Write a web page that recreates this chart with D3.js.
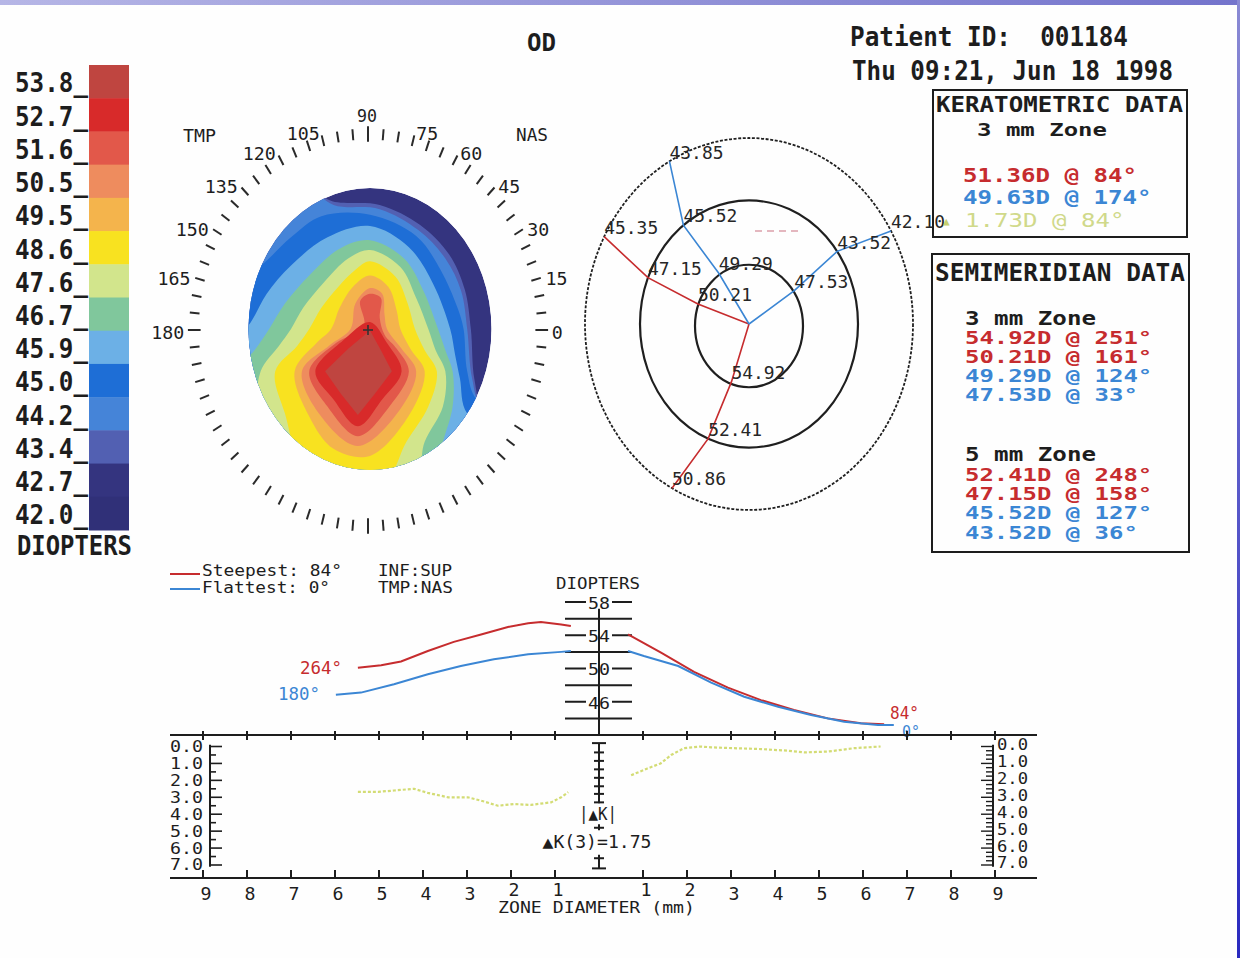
<!DOCTYPE html>
<html><head><meta charset="utf-8">
<script src="https://cdn.jsdelivr.net/npm/d3@7"></script>
<style>html,body{margin:0;padding:0;background:#fff;}svg{display:block;}text{white-space:pre;}</style>
</head><body>
<svg id="chart" width="1240" height="958"></svg>
<script>
// ---------------- DATA ----------------
const legendLabels = ["53.8","52.7","51.6","50.5","49.5","48.6","47.6","46.7","45.9","45.0","44.2","43.4","42.7","42.0"];
const legendColors = ["#bf4540","#d82a2a","#e2584a","#ee8c5e","#f4b44c","#f8e220","#d2e58c","#80c79c","#6cb0e6","#1e6ed6","#4584d8","#5260b2","#34347f","#303078"];

// topography map: iso-power outlines (region >= level), points [u, v] on the normalised corneal disc
// (u: temporal -1 .. nasal +1, v: inferior -1 .. superior +1)
const mapBase = 42.7;
const iso434 = [[-0.35,0.92],[0.08,0.88],[0.41,0.74],[0.65,0.53],[0.78,0.28],[0.83,0],[0.86,-0.36],[0.94,-0.58],[1.2,-0.62],[1.2,-1.2],[-1.2,-1.2],[-1.2,1.2],[-0.5,1.1]];
const iso442 = [[-0.3,0.88],[0.08,0.85],[0.4,0.7],[0.62,0.5],[0.75,0.27],[0.8,0],[0.84,-0.35],[0.92,-0.55],[1.2,-0.6],[1.2,-1.2],[-1.2,-1.2],[-1.2,1.2],[-0.5,1.0]];
const iso450 = [[0,0.81],[0.38,0.66],[0.58,0.42],[0.72,0.15],[0.77,0],[0.8,-0.3],[0.88,-0.5],[1.2,-0.6],[1.2,-1.2],[-1.2,-1.2],[-1.2,0.3],[-0.9,0.45],[-0.65,0.65],[-0.4,0.8]];
const iso459 = [[0,0.73],[0.32,0.58],[0.52,0.32],[0.66,0],[0.7,-0.18],[0.74,-0.35],[0.8,-0.6],[1.2,-0.8],[1.2,-1.2],[-1.2,-1.2],[-1.2,-0.2],[-0.98,0.05],[-0.85,0.25],[-0.65,0.45],[-0.35,0.65]];
const iso467 = [[0,0.63],[0.28,0.5],[0.44,0.27],[0.56,0],[0.62,-0.15],[0.68,-0.3],[0.68,-0.55],[0.6,-0.8],[0.5,-1.1],[-1.1,-1.1],[-1.1,-0.3],[-0.95,-0.15],[-0.83,0],[-0.7,0.18],[-0.5,0.38],[-0.25,0.57]];
const iso476 = [[0,0.56],[0.25,0.44],[0.38,0.22],[0.48,0],[0.54,-0.15],[0.62,-0.3],[0.6,-0.55],[0.45,-0.8],[0.35,-1.1],[-0.7,-1.1],[-0.92,-0.6],[-0.9,-0.3],[-0.75,-0.12],[-0.65,0],[-0.55,0.15],[-0.38,0.33],[-0.18,0.5]];
const iso486 = [[0,0.48],[0.21,0.37],[0.31,0.18],[0.37,0],[0.45,-0.15],[0.55,-0.3],[0.48,-0.55],[0.3,-0.8],[0.1,-1.1],[-0.5,-1.05],[-0.7,-0.6],[-0.78,-0.3],[-0.6,-0.12],[-0.5,0],[-0.4,0.15],[-0.26,0.3],[-0.12,0.42]];
const iso495 = [[0,0.38],[0.15,0.3],[0.22,0.13],[0.25,0],[0.34,-0.15],[0.45,-0.3],[0.33,-0.6],[0,-0.9],[-0.3,-0.85],[-0.5,-0.62],[-0.62,-0.3],[-0.44,-0.1],[-0.32,0],[-0.25,0.15],[-0.14,0.3]];
const iso505 = [[0,0.29],[0.1,0.25],[0.12,0.1],[0.14,0],[0.26,-0.14],[0.38,-0.3],[0.24,-0.58],[-0.1,-0.83],[-0.42,-0.6],[-0.56,-0.3],[-0.34,-0.12],[-0.16,0],[-0.12,0.18]];
const iso516 = [[0,0.25],[0.09,0.22],[0.08,0.08],[0.12,-0.04],[0.22,-0.14],[0.32,-0.3],[0.16,-0.55],[-0.1,-0.76],[-0.35,-0.55],[-0.5,-0.3],[-0.28,-0.1],[-0.05,0.02],[-0.08,0.2]];
const iso527 = [[0,0.05],[0.14,-0.1],[0.26,-0.3],[0.1,-0.5],[-0.1,-0.69],[-0.3,-0.5],[-0.45,-0.3],[-0.22,-0.08]];
const iso538 = [[0,-0.01],[0.09,-0.15],[0.18,-0.3],[0.04,-0.46],[-0.1,-0.61],[-0.24,-0.46],[-0.37,-0.3],[-0.18,-0.14]];
const isoLevels = [43.4,44.2,45.0,45.9,46.7,47.6,48.6,49.5,50.5,51.6,52.7,53.8];
const isoOutlines = [iso434,iso442,iso450,iso459,iso467,iso476,iso486,iso495,iso505,iso516,iso527,iso538];
const mapTickLabels = [0,15,30,45,60,75,90,105,120,135,150,165,180];

// semimeridian rays: [angle deg, diopters, zone mm]
const raySteepInf = [[251,54.92,3],[248,52.41,5],[242,50.86,7]];
const raySteepTmp = [[161,50.21,3],[158,47.15,5],[152,45.35,7]];
const rayFlatSup  = [[124,49.29,3],[127,45.52,5],[119,43.85,7]];
const rayFlatNas  = [[33,47.53,3],[36,43.52,5],[30,42.10,7]];
const zoneRings = [3,5,7];

// keratometric / semimeridian tables
const keraRows = [[51.36,84],[49.63,174],[1.73,84]];
const semi3mm = [[54.92,251],[50.21,161],[49.29,124],[47.53,33]];
const semi5mm = [[52.41,248],[47.15,158],[45.52,127],[43.52,36]];

// profiles: [zone mm from center, diopters]
const steepLeft  = [[5.48,50.1],[4.95,50.4],[4.5,50.85],[3.89,52.1],[3.3,53.2],[2.68,54.1],[2.07,55.0],[1.61,55.45],[1.32,55.6],[0.86,55.3],[0.64,55.1]];
const steepRight = [[0.66,54.1],[1.41,51.9],[2.16,49.6],[2.93,47.7],[3.68,46.2],[4.43,45.0],[5.2,44.0],[5.95,43.4],[6.48,43.3]];
const flatLeft   = [[5.98,46.85],[5.41,47.1],[4.66,48.1],[3.89,49.3],[3.14,50.3],[2.39,51.1],[1.61,51.7],[0.86,52.0],[0.64,52.1]];
const flatRight  = [[0.66,52.1],[1.02,51.5],[1.8,50.3],[2.55,48.3],[3.3,46.6],[4.07,45.4],[4.82,44.4],[5.57,43.6],[6.34,43.2],[6.7,43.2]];
const dkLeft  = [[5.48,2.68],[5.02,2.68],[4.66,2.6],[4.2,2.5],[3.89,2.74],[3.43,3.0],[2.98,3.0],[2.61,3.25],[2.3,3.5],[1.93,3.4],[1.55,3.45],[1.09,3.3],[0.86,3.0],[0.7,2.7]];
const dkRight = [[0.73,1.7],[1.1,1.3],[1.4,1.0],[1.64,0.5],[1.93,0.1],[2.3,0.0],[2.55,0.05],[3.07,0.1],[3.68,0.15],[4.3,0.25],[4.66,0.35],[5.2,0.3],[5.8,0.1],[6.4,0.0]];
const diopterLabeled = [58,54,50,46];
const diopterMinor = [56,52,48,44];
const zoneTicks = [1,2,3,4,5,6,7,8,9];
const dkAxisLabels = [0,1,2,3,4,5,6,7];
const dkCenterTicks = [-0.2,0.35,0.85,1.35,1.85,2.35,2.8,3.3,4.8,6.6,7.2];

// ---------------- HELPERS ----------------
const FONT = "'DejaVu Sans Mono','Liberation Mono',monospace";
const RED = "#c62c2e", BLUE = "#3b86d4", INK = "#1d1d1d", DK = "#d3dc74";
const svg = d3.select("#chart");
function label(g, s, x, cy, size, len, o = {}) {
  const t = g.append("text")
    .attr("x", x).attr("y", cy + 0.365 * size)
    .attr("font-family", FONT).attr("font-size", size)
    .attr("font-weight", o.weight || "bold")
    .attr("fill", o.color || INK)
    .attr("text-anchor", o.anchor || "start")
    .attr("xml:space", "preserve")
    .text(s);
  if (len) t.attr("textLength", len).attr("lengthAdjust", "spacingAndGlyphs");
  return t;
}

// ---------------- BACKGROUND / FRAME ----------------
svg.append("rect").attr("width", 1240).attr("height", 958).attr("fill", "#fefefe");
const defs = svg.append("defs");
const gTop = defs.append("linearGradient").attr("id", "gTop");
gTop.append("stop").attr("offset", "0%").attr("stop-color", "#b6b6e6");
gTop.append("stop").attr("offset", "100%").attr("stop-color", "#7474cc");
const gRight = defs.append("linearGradient").attr("id", "gRight").attr("x1", 0).attr("y1", 0).attr("x2", 0).attr("y2", 1);
gRight.append("stop").attr("offset", "0%").attr("stop-color", "#8a8ad4");
gRight.append("stop").attr("offset", "100%").attr("stop-color", "#2a2abf");
svg.append("rect").attr("x", 0).attr("y", 0).attr("width", 1240).attr("height", 5).attr("fill", "url(#gTop)");
svg.append("rect").attr("x", 1237).attr("y", 0).attr("width", 3).attr("height", 958).attr("fill", "url(#gRight)");

// ---------------- HEADER ----------------
label(svg, "OD", 527, 42, 25, 29);
label(svg, "Patient ID:  001184", 850, 37, 26, 278);
label(svg, "Thu 09:21, Jun 18 1998", 852, 71, 26, 321);

// ---------------- LEGEND ----------------
const legY = d3.scaleBand().domain(legendLabels).range([65, 530]);
svg.append("g").selectAll("rect").data(legendLabels).join("rect")
  .attr("x", 89).attr("y", d => legY(d)).attr("width", 40).attr("height", legY.bandwidth() + 0.5)
  .attr("fill", (d, i) => legendColors[i]);
legendLabels.forEach(d => label(svg, d + "_", 15, legY(d) + legY.bandwidth() / 2 + 1, 27, 73));
label(svg, "DIOPTERS", 17, 545, 27, 115);

// ---------------- TOPOGRAPHY MAP ----------------
const asc = legendLabels.map(Number).slice().reverse();
const bandColor = d3.scaleThreshold().domain(asc.slice(1)).range(legendColors.slice().reverse());
const mapCx = 370, mapCy = 329, mapRx = 121.5, mapRy = 141;
const uS = d3.scaleLinear().domain([-1, 1]).range([mapCx - mapRx, mapCx + mapRx]);
const vS = d3.scaleLinear().domain([-1, 1]).range([mapCy + mapRy, mapCy - mapRy]);
defs.append("clipPath").attr("id", "discClip").append("ellipse")
  .attr("cx", mapCx).attr("cy", mapCy).attr("rx", mapRx).attr("ry", mapRy);
const mapG = svg.append("g").attr("clip-path", "url(#discClip)");
mapG.append("ellipse").attr("cx", mapCx).attr("cy", mapCy).attr("rx", mapRx).attr("ry", mapRy).attr("fill", bandColor(mapBase));
const isoLine = d3.line().x(d => uS(d[0])).y(d => vS(d[1])).curve(d3.curveCatmullRomClosed.alpha(0.5));
const isoLineSharp = d3.line().x(d => uS(d[0])).y(d => vS(d[1])).curve(d3.curveLinearClosed);
mapG.selectAll("path.iso").data(isoLevels).join("path").attr("class", "iso")
  .attr("d", (lv, i) => (lv === 53.8 ? isoLineSharp : isoLine)(isoOutlines[i]))
  .attr("fill", lv => bandColor(lv));

// tick ring
const ringCx = 368, ringCy = 330, ringRx = 174, ringRy = 196;
const tickG = svg.append("g").attr("stroke", "#2a2a2a").attr("stroke-width", 2);
d3.range(0, 360, 5).forEach(a => {
  const c = Math.cos(a * Math.PI / 180), s = Math.sin(a * Math.PI / 180);
  let r0 = 0.972, r1 = 1.028;
  if (a % 90 === 0) { r0 = 0.962; r1 = 1.035; }
  if (a === 90 || a === 270) { r0 = 0.96; r1 = 1.04; }
  tickG.append("line")
    .attr("x1", ringCx + r0 * ringRx * c).attr("y1", ringCy - r0 * ringRy * s)
    .attr("x2", ringCx + r1 * ringRx * c).attr("y2", ringCy - r1 * ringRy * s);
});
mapTickLabels.forEach(a => {
  const c = Math.cos(a * Math.PI / 180), s = Math.sin(a * Math.PI / 180);
  const f = 1.05;
  const x = ringCx + f * ringRx * c, y = ringCy - f * ringRy * s;
  const str = String(a);
  if (a === 90) label(svg, str, 367, 115, 18, 20, { anchor: "middle", weight: "normal" });
  else label(svg, str, c < 0 ? x - 1 : x + 1, y + 2, 18, 11 * str.length, { anchor: c < 0 ? "end" : "start", weight: "normal" });
});
label(svg, "TMP", 183, 135, 18, 33, { weight: "normal" });
label(svg, "NAS", 516, 134, 18, 32, { weight: "normal" });
svg.append("g").attr("stroke", "#333").attr("stroke-width", 1.6).call(g => {
  g.append("line").attr("x1", 363).attr("x2", 373).attr("y1", 330).attr("y2", 330);
  g.append("line").attr("x1", 368).attr("x2", 368).attr("y1", 325).attr("y2", 335);
});

// ---------------- SEMIMERIDIAN RINGS ----------------
const smCx = 749, smCy = 324, smAspect = 1.134;
const zoneR = d3.scaleLinear().domain([3, 7]).range([54, 164]);
const smG = svg.append("g");
zoneRings.forEach(z => {
  smG.append("ellipse").attr("cx", smCx).attr("cy", smCy + (z === 3 ? 2 : 0))
    .attr("rx", zoneR(z)).attr("ry", zoneR(z) * smAspect)
    .attr("fill", "none").attr("stroke", "#1f1f1f").attr("stroke-width", z === 7 ? 1.8 : 2.2)
    .attr("stroke-dasharray", z === 7 ? "3,1.6" : null);
});
const rayPt = d => [smCx + zoneR(d[2]) * Math.cos(d[0] * Math.PI / 180),
                    smCy - zoneR(d[2]) * smAspect * Math.sin(d[0] * Math.PI / 180)];
const rayLine = d3.line();
[[raySteepInf, RED], [raySteepTmp, RED], [rayFlatSup, BLUE], [rayFlatNas, BLUE]].forEach(([ray, col]) => {
  smG.append("path").attr("d", rayLine([[smCx, smCy]].concat(ray.map(rayPt))))
    .attr("fill", "none").attr("stroke", col).attr("stroke-width", 1.6);
});
smG.append("line").attr("x1", 755).attr("x2", 801).attr("y1", 231).attr("y2", 231)
  .attr("stroke", "#dca0aa").attr("stroke-width", 1.3).attr("stroke-dasharray", "7,5");
[raySteepInf, raySteepTmp, rayFlatSup, rayFlatNas].forEach(ray => ray.forEach(d => {
  const p = rayPt(d);
  label(smG, d[1].toFixed(2), p[0], p[1] - 9, 17, 54, { weight: "normal", color: "#262626" });
}));

// ---------------- KERATOMETRIC BOX ----------------
svg.append("rect").attr("x", 933).attr("y", 90).attr("width", 254).attr("height", 147)
  .attr("fill", "none").attr("stroke", "#1d1d1d").attr("stroke-width", 2);
label(svg, "KERATOMETRIC DATA", 936, 104, 22, 247);
label(svg, "3 mm Zone", 977, 129, 18, 130);
const keraCols = [RED, BLUE, "#d0d98a"];
const keraY = [175, 197, 220];
keraRows.forEach((r, i) => {
  const s = `${r[0].toFixed(2)}D @ ${r[1]}°`;
  label(svg, s, i === 2 ? 965 : 963, keraY[i], 19, s.length * 14.5, { color: keraCols[i], weight: i === 2 ? "normal" : "bold" });
});
label(svg, "▲", 943, 221, 11, null, { color: "#c6d070", weight: "normal" });

// ---------------- SEMIMERIDIAN BOX ----------------
svg.append("rect").attr("x", 932).attr("y", 254).attr("width", 257).attr("height", 298)
  .attr("fill", "none").attr("stroke", "#1d1d1d").attr("stroke-width", 2);
label(svg, "SEMIMERIDIAN DATA", 935, 272, 24, 250);
label(svg, "3 mm Zone", 965, 318, 19, 131);
label(svg, "5 mm Zone", 965, 454, 19, 131);
const semiCols = [RED, RED, BLUE, BLUE];
[[semi3mm, [337, 356, 375, 394]], [semi5mm, [474, 493, 512, 532]]].forEach(([rows, ys]) => {
  rows.forEach((r, i) => {
    const s = `${r[0].toFixed(2)}D @ ${r[1]}°`;
    label(svg, s, 965, ys[i], 18, s.length * 14.4, { color: semiCols[i] });
  });
});

// ---------------- PROFILE CHART ----------------
const xZone = d3.scaleLinear().domain([-9, 9]).range([203, 995]);
const yD = d3.scaleLinear().domain([42, 58]).range([735, 602]);
const yK = d3.scaleLinear().domain([0, 7]).range([746.5, 865]);
const pG = svg.append("g");

// legend
pG.append("line").attr("x1", 170).attr("x2", 200).attr("y1", 574).attr("y2", 574).attr("stroke", RED).attr("stroke-width", 2);
pG.append("line").attr("x1", 170).attr("x2", 200).attr("y1", 589).attr("y2", 589).attr("stroke", BLUE).attr("stroke-width", 2);
label(pG, "Steepest: 84°", 202, 571, 15, 140, { weight: "normal" });
label(pG, "Flattest: 0°", 202, 588, 15, 128, { weight: "normal" });
label(pG, "INF:SUP", 378, 571, 15, 74, { weight: "normal" });
label(pG, "TMP:NAS", 378, 588, 15, 75, { weight: "normal" });
label(pG, "DIOPTERS", 556, 584, 15, 84, { weight: "normal" });

// diopter axis
const axG = pG.append("g").attr("stroke", "#1d1d1d").attr("stroke-width", 2);
axG.append("line").attr("x1", 599).attr("x2", 599).attr("y1", yD(57.2)).attr("y2", yD(42));
diopterMinor.forEach(v => axG.append("line").attr("x1", 565).attr("x2", 632).attr("y1", yD(v)).attr("y2", yD(v)));
diopterLabeled.forEach(v => {
  axG.append("line").attr("x1", 565).attr("x2", 586).attr("y1", yD(v)).attr("y2", yD(v));
  axG.append("line").attr("x1", 612).attr("x2", 632).attr("y1", yD(v)).attr("y2", yD(v));
  label(pG, String(v), 599, yD(v) + 1, 16, 22, { anchor: "middle", weight: "normal" });
});

// profile curves
const profLine = side => d3.line().x(d => xZone(side * d[0])).y(d => yD(d[1]));
[[steepLeft, -1, RED], [steepRight, 1, RED], [flatLeft, -1, BLUE], [flatRight, 1, BLUE]].forEach(([data, side, col]) => {
  pG.append("path").attr("d", profLine(side)(data)).attr("fill", "none").attr("stroke", col).attr("stroke-width", 2);
});
label(pG, "264°", 300, 668, 17, 42, { color: RED, weight: "normal" });
label(pG, "180°", 278, 694, 17, 42, { color: BLUE, weight: "normal" });
label(pG, "84°", 890, 713, 17, 29, { color: RED, weight: "normal" });
label(pG, "0°", 902, 731, 16, 18, { color: BLUE, weight: "normal" });

// lower box axes
const bxG = pG.append("g").attr("stroke", "#1d1d1d").attr("stroke-width", 2);
bxG.append("line").attr("x1", 170).attr("x2", 1037).attr("y1", 735).attr("y2", 735);
bxG.append("line").attr("x1", 170).attr("x2", 1037).attr("y1", 878).attr("y2", 878);
zoneTicks.forEach(t => [-1, 1].forEach(s => {
  const x = xZone(s * t);
  bxG.append("line").attr("x1", x).attr("x2", x).attr("y1", 731).attr("y2", 740);
  bxG.append("line").attr("x1", x).attr("x2", x).attr("y1", 870).attr("y2", 878);
  const raised = t <= 2;
  label(pG, String(t), x + 3, raised ? 890 : 894, 17, 11, { anchor: "middle", weight: "normal" });
}));
label(pG, "ZONE DIAMETER (mm)", 498, 907, 16, 197, { weight: "normal" });

// delta-K side axes
bxG.append("line").attr("x1", 210).attr("x2", 210).attr("y1", yK(-0.1)).attr("y2", yK(7.1));
bxG.append("line").attr("x1", 993).attr("x2", 993).attr("y1", yK(-0.1)).attr("y2", yK(7.1));
d3.range(0, 7.01, 0.5).forEach(v => {
  const major = Number.isInteger(v);
  bxG.append("line").attr("x1", 210).attr("x2", major ? 222 : 216).attr("y1", yK(v)).attr("y2", yK(v)).attr("stroke-width", 1.6);
});
d3.range(0, 7.01, 0.25).forEach(v => {
  const major = Number.isInteger(v);
  bxG.append("line").attr("x1", 993).attr("x2", major ? 981 : 986).attr("y1", yK(v)).attr("y2", yK(v)).attr("stroke-width", 1.4);
});
dkAxisLabels.forEach(v => {
  label(pG, v.toFixed(1), 170, yK(v), 15, 33, { weight: "normal" });
  label(pG, v.toFixed(1), 997, yK(v) - 2, 15, 31, { weight: "normal" });
});

// delta-K center axis
[[-0.2, 3.35], [4.6, 4.95], [6.4, 7.2]].forEach(([a, b]) =>
  bxG.append("line").attr("x1", 599).attr("x2", 599).attr("y1", yK(a)).attr("y2", yK(b)));
dkCenterTicks.forEach((v, i) => {
  const cap = i === 0 || i === dkCenterTicks.length - 1;
  bxG.append("line").attr("x1", 599 - (cap ? 7 : 5)).attr("x2", 599 + (cap ? 7 : 5)).attr("y1", yK(v)).attr("y2", yK(v));
});
label(pG, "|▲K|", 598, 814, 17, 38, { anchor: "middle", weight: "normal" });
label(pG, "▲K(3)=1.75", 597, 842, 17, 109, { anchor: "middle", weight: "normal" });

// delta-K curves
const dkLine = side => d3.line().x(d => xZone(side * d[0])).y(d => yK(d[1]));
[[dkLeft, -1], [dkRight, 1]].forEach(([data, side]) => {
  pG.append("path").attr("d", dkLine(side)(data)).attr("fill", "none")
    .attr("stroke", DK).attr("stroke-width", 2.2).attr("stroke-dasharray", "3,2");
});
</script>
</body></html>
